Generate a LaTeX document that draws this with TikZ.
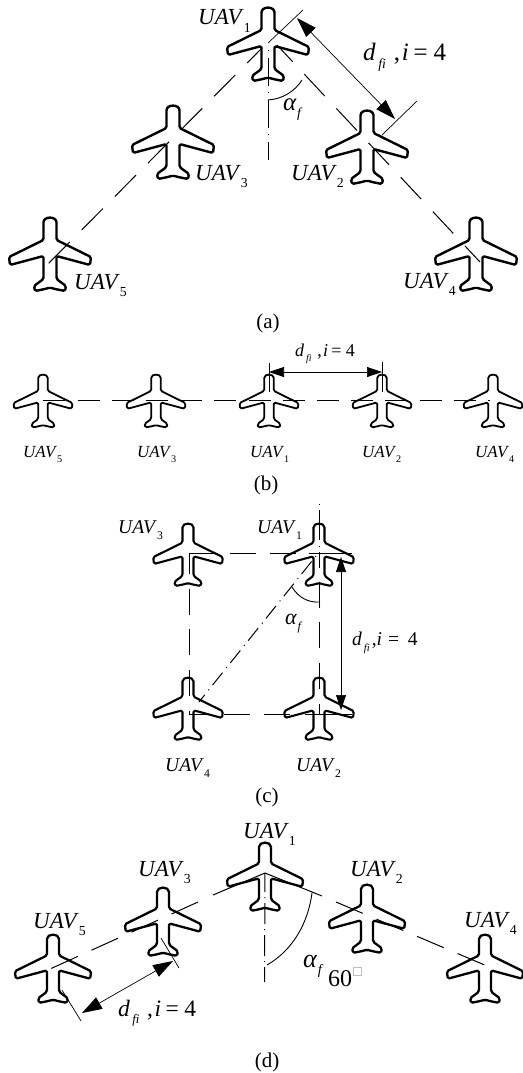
\documentclass[tikz,border=0pt]{standalone}
\usepackage{fontspec}
\setmainfont{Liberation Serif}
\usetikzlibrary{arrows.meta}
\newcommand{\uavname}[1]{\textit{UAV}\raisebox{-.33em}{\scalebox{.6}{#1}}}
\newcommand{\dfitext}{\textit{d}\kern.1em\raisebox{-.33em}{\scalebox{.55}{\textit{fi}}}\kern.32em,\kern.07em\textit{i}\kern.19em=\kern.24em4}
\newcommand{\dfitight}{\textit{d}\kern.1em\raisebox{-.33em}{\scalebox{.55}{\textit{fi}}}\kern.1em,\textit{i}\kern.3em=\kern.45em4}
\newcommand{\alphatext}{\textit{α}\kern.02em\raisebox{-.3em}{\scalebox{.55}{\textit{f}}}}
\tikzset{
  lbla/.style={anchor=base west, inner sep=0pt, font=\fontsize{23}{27}\selectfont},
  lblb/.style={anchor=base west, inner sep=0pt, font=\fontsize{17}{20}\selectfont},
  lblc/.style={anchor=base west, inner sep=0pt, font=\fontsize{19.5}{23}\selectfont},
  dfilbl/.style={anchor=base west, inner sep=0pt, font=\fontsize{#1}{28}\selectfont},
  caption/.style={anchor=base, inner sep=0pt, font=\fontsize{21}{25}\selectfont},
  leg/.style={line width=1pt},
  extline/.style={line width=0.7pt},
  axisline/.style={line width=1pt},
  dimarrow/.style={line width=0.7pt, <->, >={Triangle[length=20pt,width=13pt]}},
  dimarrowb/.style={line width=0.7pt, <->, >={Triangle[length=15pt,width=10pt]}},
  plane/.pic={
    \draw[rounded corners=1.6pt, line join=round]
      (-6.5,6) .. controls (-6.5,-2) and (6.5,-2) .. (6.5,6) -- (6.5,22) -- (41,39) -- (40,47) -- (6.5,38)
      -- (6.5,61) -- (16,68) -- (15,73) -- (5,71) -- (0,69.5) -- (-5,71) -- (-15,73) -- (-16,68)
      -- (-6.5,61) -- (-6.5,38) -- (-40,47) -- (-41,39) -- (-6.5,22) -- cycle;
  }
}
\begin{document}
\begin{tikzpicture}[x=1pt,y=-1pt]
\useasboundingbox (0,0) rectangle (522,1073);

% (a)
\coordinate (a1) at (268,8);
\coordinate (a2) at (367,111);
\coordinate (a3) at (173,106);
\coordinate (a4) at (476,218);
\coordinate (a5) at (50,218);
\pic[line width=2.4pt] at (a1) {plane};
\pic[line width=2.4pt] at (a2) {plane};
\pic[line width=2.4pt] at (a3) {plane};
\pic[line width=2.4pt] at (a4) {plane};
\pic[line width=2.4pt] at (a5) {plane};
\coordinate (alefttop) at (262,48); \coordinate (aleftend) at (45,267);
\coordinate (arighttop) at (277,45); \coordinate (arightend) at (480,262);
\draw[leg, dash pattern=on 30pt off 17pt, dash phase=9pt] (alefttop) -- (aleftend);
\draw[leg, dash pattern=on 30pt off 17pt, dash phase=7pt] (arighttop) -- (arightend);
\coordinate (aaxisend) at (268,160); \coordinate (aaxistop) at (268,45);
\draw[axisline, dash pattern=on 28pt off 7pt on 1pt off 6pt, dash phase=10pt] (aaxisend) -- (aaxistop);
\coordinate (aarcs) at (268,100); \coordinate (aarce) at (302,80);
\draw[line width=0.9pt] (aarcs) .. controls (283,99) and (295,91) .. (aarce);
\coordinate (aext1s) at (303,10); \coordinate (aext1e) at (268,43);
\coordinate (aext2s) at (417,101); \coordinate (aext2e) at (382,135);
\draw[extline] (aext1s) -- (aext1e);
\draw[extline] (aext2s) -- (aext2e);
\coordinate (adim1) at (297,18); \coordinate (adim2) at (395,119);
\draw[dimarrow] (adim1) -- (adim2);
\node[lbla] (au1) at (198,25) {\uavname{1}};
\node[lbla] (au2) at (291,180) {\uavname{2}};
\node[lbla] (au3) at (195,180) {\uavname{3}};
\node[lbla] (au4) at (403,288) {\uavname{4}};
\node[lbla] (au5) at (74,289) {\uavname{5}};
\node[dfilbl=25] (adfi) at (363,60) {\dfitext};
\node[dfilbl=25] (aalpha) at (283,110) {\alphatext};
\node[caption] (capa) at (268,328) {(a)};

% (b)
\coordinate (b1) at (269,375);
\coordinate (b2) at (382,375);
\coordinate (b3) at (156,375);
\coordinate (b4) at (493,375);
\coordinate (b5) at (43,375);
\pic[scale=.72, line width=1.8pt] at (b1) {plane};
\pic[scale=.72, line width=1.8pt] at (b2) {plane};
\pic[scale=.72, line width=1.8pt] at (b3) {plane};
\pic[scale=.72, line width=1.8pt] at (b4) {plane};
\pic[scale=.72, line width=1.8pt] at (b5) {plane};
\coordinate (blines) at (43.3,400); \coordinate (blinee) at (490,400);
\draw[leg, dash pattern=on 22pt off 12.2pt] (blines) -- (blinee);
\coordinate (bext1s) at (269,363); \coordinate (bext1e) at (269,392);
\coordinate (bext2s) at (382,362); \coordinate (bext2e) at (382,392);
\draw[extline] (bext1s) -- (bext1e);
\draw[extline] (bext2s) -- (bext2e);
\coordinate (bdim1) at (269,372); \coordinate (bdim2) at (382,372);
\draw[dimarrowb] (bdim1) -- (bdim2);
\node[lblb] (bu5) at (23,457) {\uavname{5}};
\node[lblb] (bu3) at (137,457) {\uavname{3}};
\node[lblb] (bu1) at (250,457) {\uavname{1}};
\node[lblb] (bu2) at (362,457) {\uavname{2}};
\node[lblb] (bu4) at (475,457) {\uavname{4}};
\node[dfilbl=18] (bdfi) at (295,356) {\dfitext};
\node[caption] (capb) at (266,490) {(b)};

% (c)
\coordinate (c1) at (319,524);
\coordinate (c2) at (319,678);
\coordinate (c3) at (188,524);
\coordinate (c4) at (188,678);
\pic[scale=.85, line width=2.1pt] at (c1) {plane};
\pic[scale=.85, line width=2.1pt] at (c2) {plane};
\pic[scale=.85, line width=2.1pt] at (c3) {plane};
\pic[scale=.85, line width=2.1pt] at (c4) {plane};
\coordinate (ctl) at (189,553); \coordinate (ctr) at (335,553);
\coordinate (cbl) at (189,714); \coordinate (cbr) at (335,714);
\coordinate (crt) at (319,553); \coordinate (crb) at (319,714);
\draw[leg, dash pattern=on 26pt off 14.7pt] (ctl) -- (ctr);
\draw[leg, dash pattern=on 26pt off 14.7pt, dash phase=5pt] (ctl) -- (cbl);
\draw[leg, dash pattern=on 26pt off 14.7pt, dash phase=6pt] (cbl) -- (cbr);
\draw[leg, dash pattern=on 26pt off 14.7pt, dash phase=12pt] (crt) -- (crb);
\coordinate (cext1s) at (309,553); \coordinate (cext1e) at (352,553);
\coordinate (cext2s) at (309,714); \coordinate (cext2e) at (352,714);
\draw[extline] (cext1s) -- (cext1e);
\draw[extline] (cext2s) -- (cext2e);
\coordinate (caxist) at (319,504); \coordinate (caxism) at (319,568);
\draw[axisline, dash pattern=on 1pt off 5pt on 30pt off 6pt] (caxist) -- (caxism);
\coordinate (cdiags) at (316,556); \coordinate (cdiage) at (199,702);
\draw[axisline, dash pattern=on 1pt off 6pt on 16pt off 5.5pt] (cdiags) -- (cdiage);
\coordinate (carcs) at (320,602); \coordinate (carce) at (292,587);
\draw[line width=0.9pt] (carcs) .. controls (308,603) and (298,597) .. (carce);
\coordinate (cdim1) at (341,557); \coordinate (cdim2) at (341,710);
\draw[dimarrowb] (cdim1) -- (cdim2);
\node[lblc] (cu3) at (118,533) {\uavname{3}};
\node[lblc] (cu1) at (257,533) {\uavname{1}};
\node[lblc] (cu4) at (165,771) {\uavname{4}};
\node[lblc] (cu2) at (296,771) {\uavname{2}};
\node[dfilbl=19.5] (cdfi) at (352,645) {\dfitight};
\node[dfilbl=22] (calpha) at (285,624) {\alphatext};
\node[caption] (capc) at (267,802) {(c)};

% (d)
\coordinate (d1) at (265,843);
\coordinate (d2) at (367,885);
\coordinate (d3) at (163,888);
\coordinate (d4) at (485,935);
\coordinate (d5) at (53,935);
\pic[scale=.93, line width=2.3pt] at (d1) {plane};
\pic[scale=.93, line width=2.3pt] at (d2) {plane};
\pic[scale=.93, line width=2.3pt] at (d3) {plane};
\pic[scale=.93, line width=2.3pt] at (d4) {plane};
\pic[scale=.93, line width=2.3pt] at (d5) {plane};
\coordinate (dapex) at (265,873);
\coordinate (dapl) at (213,895); \coordinate (dapr) at (322,896);
\draw[leg] (dapl) -- (dapex) -- (dapr);
\coordinate (dlefts) at (198,902); \coordinate (dlefte) at (50,969);
\coordinate (drights) at (336,902); \coordinate (drighte) at (487,966);
\draw[leg, dash pattern=on 29pt off 15pt] (dlefts) -- (dlefte);
\draw[leg, dash pattern=on 29pt off 15pt] (drights) -- (drighte);
\coordinate (daxisb) at (264.5,982);
\draw[axisline, dash pattern=on 21pt off 5pt on 1pt off 5pt, dash phase=6pt] (daxisb) -- (dapex);
\coordinate (darcs) at (267,965); \coordinate (darce) at (312,893);
\draw[line width=0.9pt] (darcs) .. controls (293,950) and (308,923) .. (darce);
\coordinate (dext1s) at (161,938); \coordinate (dext1e) at (179,968);
\coordinate (dext2s) at (62,990); \coordinate (dext2e) at (81,1021);
\draw[extline] (dext1s) -- (dext1e);
\draw[extline] (dext2s) -- (dext2e);
\coordinate (ddim1) at (82,1013); \coordinate (ddim2) at (173,961);
\draw[dimarrow] (ddim1) -- (ddim2);
\node[lbla] (du1) at (243,838) {\uavname{1}};
\node[lbla] (du3) at (138,876) {\uavname{3}};
\node[lbla] (du5) at (33,928) {\uavname{5}};
\node[lbla] (du2) at (350,876) {\uavname{2}};
\node[lbla] (du4) at (464,927) {\uavname{4}};
\node[dfilbl=23.5] (ddfi) at (118,1016) {\dfitext};
\node[dfilbl=26] (dalpha) at (303,967) {\alphatext};
\node[dfilbl=24] (dsixty) at (328,986) {60};
\node[draw=black!25, line width=0.6pt, inner sep=0pt, minimum size=8pt] (dbox) at (357.5,971.5) {};
\node[caption] (capd) at (267,1067) {(d)};
\end{tikzpicture}
\end{document}
